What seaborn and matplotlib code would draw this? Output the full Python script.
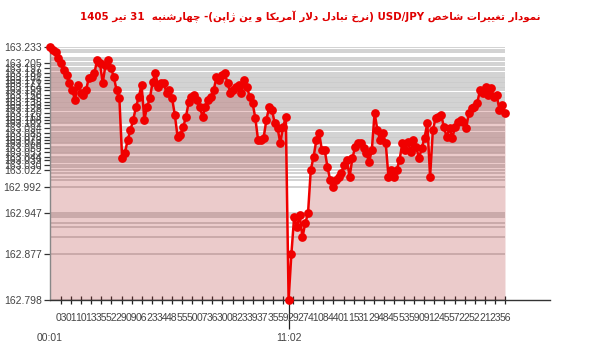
import re

import numpy as np
import matplotlib
matplotlib.use("Agg")
import matplotlib.pyplot as plt
import seaborn as sns

# ---- data ------------------------------------------------------------------
prices = [
    163.233, 163.228, 163.224, 163.214, 163.205, 163.193, 163.185, 163.171, 163.159, 163.142,
    163.168, 163.154, 163.150, 163.159, 163.180, 163.181, 163.188, 163.211, 163.205, 163.171,
    163.202, 163.211, 163.197, 163.181, 163.159, 163.145, 163.042, 163.051, 163.073, 163.090,
    163.108, 163.130, 163.147, 163.168, 163.108, 163.130, 163.145, 163.173, 163.188, 163.164,
    163.171, 163.171, 163.154, 163.159, 163.145, 163.116, 163.078, 163.082, 163.095, 163.113,
    163.138, 163.147, 163.150, 163.142, 163.130, 163.113, 163.130, 163.142, 163.147, 163.159,
    163.181, 163.176, 163.185, 163.188, 163.171, 163.154, 163.159, 163.164, 163.168, 163.154,
    163.176, 163.164, 163.147, 163.137, 163.111, 163.073,
    163.073, 163.077, 163.108, 163.130, 163.125, 163.102, 163.094, 163.068, 163.095, 163.113,
    162.798, 162.877, 162.941, 162.924, 162.944, 162.906, 162.930, 162.947, 163.022, 163.044,
    163.073, 163.085, 163.056, 163.056, 163.027, 163.004, 162.992, 163.004, 163.010, 163.016,
    163.030, 163.039, 163.010, 163.042, 163.061, 163.068, 163.068, 163.059, 163.051, 163.035,
    163.056, 163.120, 163.090, 163.073, 163.085, 163.068, 163.010,
    163.022, 163.010, 163.022, 163.039, 163.068, 163.056, 163.070, 163.053, 163.073, 163.061,
    163.042, 163.059, 163.077, 163.102, 163.010, 163.090, 163.111, 163.113, 163.116, 163.095,
    163.078, 163.094, 163.077, 163.095, 163.104, 163.108, 163.104, 163.094, 163.120, 163.128,
    163.130, 163.137, 163.159, 163.154, 163.164, 163.150, 163.163, 163.147, 163.150, 163.125,
    163.133, 163.120,
]
low_ticks = [162.992, 162.947, 162.877, 162.798]
hour_labels = ["00:01", "11:02"]
minute_labels = [
    "03", "01", "10", "13", "35", "52", "29", "09", "06", "23", "34", "48", "55", "50", "07",
    "36", "30", "08", "23", "39", "37", "35", "59", "29", "27", "41", "08", "44", "01", "15",
    "31", "29", "48", "45", "53", "59", "09", "12", "45", "57", "22", "52", "21", "23", "56",
]
title = "نمودار تغییرات شاخص USD/JPY (نرخ تبادل دلار آمریکا و ین ژاپن)- چهارشنبه  31 تیر 1405"

# ---- tiny persian shaper + bidi (matplotlib does neither) --------------------
FORMS = {
    'ا': ('\uFE8D', '\uFE8E', None, None),
    'آ': ('\uFE81', '\uFE82', None, None),
    'ب': ('\uFE8F', '\uFE90', '\uFE91', '\uFE92'),
    'پ': ('\uFB56', '\uFB57', '\uFB58', '\uFB59'),
    'ت': ('\uFE95', '\uFE96', '\uFE97', '\uFE98'),
    'خ': ('\uFEA5', '\uFEA6', '\uFEA7', '\uFEA8'),
    'چ': ('\uFB7A', '\uFB7B', '\uFB7C', '\uFB7D'),
    'د': ('\uFEA9', '\uFEAA', None, None),
    'ر': ('\uFEAD', '\uFEAE', None, None),
    'ژ': ('\uFB8A', '\uFB8B', None, None),
    'ش': ('\uFEB5', '\uFEB6', '\uFEB7', '\uFEB8'),
    'ص': ('\uFEB9', '\uFEBA', '\uFEBB', '\uFEBC'),
    'غ': ('\uFECD', '\uFECE', '\uFECF', '\uFED0'),
    'ک': ('\uFB8E', '\uFB8F', '\uFB90', '\uFB91'),
    'ل': ('\uFEDD', '\uFEDE', '\uFEDF', '\uFEE0'),
    'م': ('\uFEE1', '\uFEE2', '\uFEE3', '\uFEE4'),
    'ن': ('\uFEE5', '\uFEE6', '\uFEE7', '\uFEE8'),
    'ه': ('\uFEE9', '\uFEEA', '\uFEEB', '\uFEEC'),
    'و': ('\uFEED', '\uFEEE', None, None),
    'ی': ('\uFBFC', '\uFBFD', '\uFBFE', '\uFBFF'),
}


def shape(s):
    out, i, n = [], 0, len(s)

    def joins_fwd(j):
        return j >= 0 and s[j] in FORMS and FORMS[s[j]][2] is not None

    while i < n:
        c = s[i]
        if c not in FORMS:
            out.append(c)
            i += 1
            continue
        prev = joins_fwd(i - 1)
        if c == 'ل' and i + 1 < n and s[i + 1] == 'ا':
            out.append('\uFEFC' if prev else '\uFEFB')
            i += 2
            continue
        nxt = i + 1 < n and s[i + 1] in FORMS and FORMS[c][2] is not None
        iso, fin, ini, med = FORMS[c]
        out.append(med if prev and nxt else fin if prev else ini if nxt else iso)
        i += 1
    return ''.join(out)


def visual(s):
    runs = re.findall(r'[A-Za-z0-9/]+|[^A-Za-z0-9/]+', shape(s))
    out = []
    for r in reversed(runs):
        if re.match(r'[A-Za-z0-9]', r):
            out.append(r)
        else:
            out.append(r[::-1].translate(str.maketrans('()', ')(')))
    return ''.join(out)


# ---- plot -------------------------------------------------------------------
sns.set_theme(style="white")
plt.rcParams['font.family'] = ['Liberation Sans', 'DejaVu Sans']

n = len(prices)
idx = np.arange(n)
ymin, ymax = min(prices), max(prices)
imin = prices.index(ymin)

fig = plt.figure(figsize=(6, 3.52), dpi=100)
ax = fig.add_axes([50 / 600, 52 / 352, 500 / 600, 253 / 352])

# dense grid: one line per distinct price, only as wide as the data
levels = sorted(set(prices))
ax.hlines(levels, 0, n - 1, color='#cbcbcb', lw=1.2, zorder=0)

ax.fill_between(idx, prices, ymin, color='#b03030', alpha=0.25, lw=0, zorder=1)
sns.lineplot(x=idx, y=prices, ax=ax, color='#f00000', lw=1.8, marker='o',
             markersize=6.3, markeredgewidth=0, errorbar=None, clip_on=False, zorder=3)

ax.set_xlim(0, (n - 1) * 500 / 455)
ax.set_ylim(ymin, ymax)

upper = [v for v in levels if 163.02 <= v <= 163.207][::2]
yt = sorted(set(upper + low_ticks + [ymax]))
ax.set_yticks(yt, [f"{v:.3f}" for v in yt])
ax.tick_params(axis='y', direction='out', length=4.5, width=0.9, color='#333333',
               labelsize=7.5, labelcolor='#444444', pad=1.5, left=True)

first = 11 / 455 * (n - 1)
mpos = np.linspace(first, n - 1, len(minute_labels))
ax.set_xticks(mpos, minute_labels, minor=True)
ax.set_xticks([0, imin], hour_labels)
ax.tick_params(axis='x', which='minor', direction='inout', length=6, width=0.9,
               color='#222222', labelsize=7.5, labelcolor='#444444', pad=6.5, bottom=True)
ax.tick_params(axis='x', which='major', direction='out', length=21, width=0.9,
               color='#222222', labelsize=7.5, labelcolor='#444444', pad=2.5, bottom=True)
ax.xaxis.get_major_ticks()[0].tick1line.set_visible(False)

for side in ['top', 'right']:
    ax.spines[side].set_visible(False)
ax.spines['bottom'].set_color('#333333')
ax.spines['bottom'].set_linewidth(1)
ax.spines['left'].set_color('#888888')
ax.spines['left'].set_linewidth(1)

fig.text(0.517, 0.953, visual(title), ha='center', va='center', color='#e00000',
         fontsize=7.4, fontweight='bold', family=['DejaVu Sans'])

fig.savefig('out.png', dpi=100)
